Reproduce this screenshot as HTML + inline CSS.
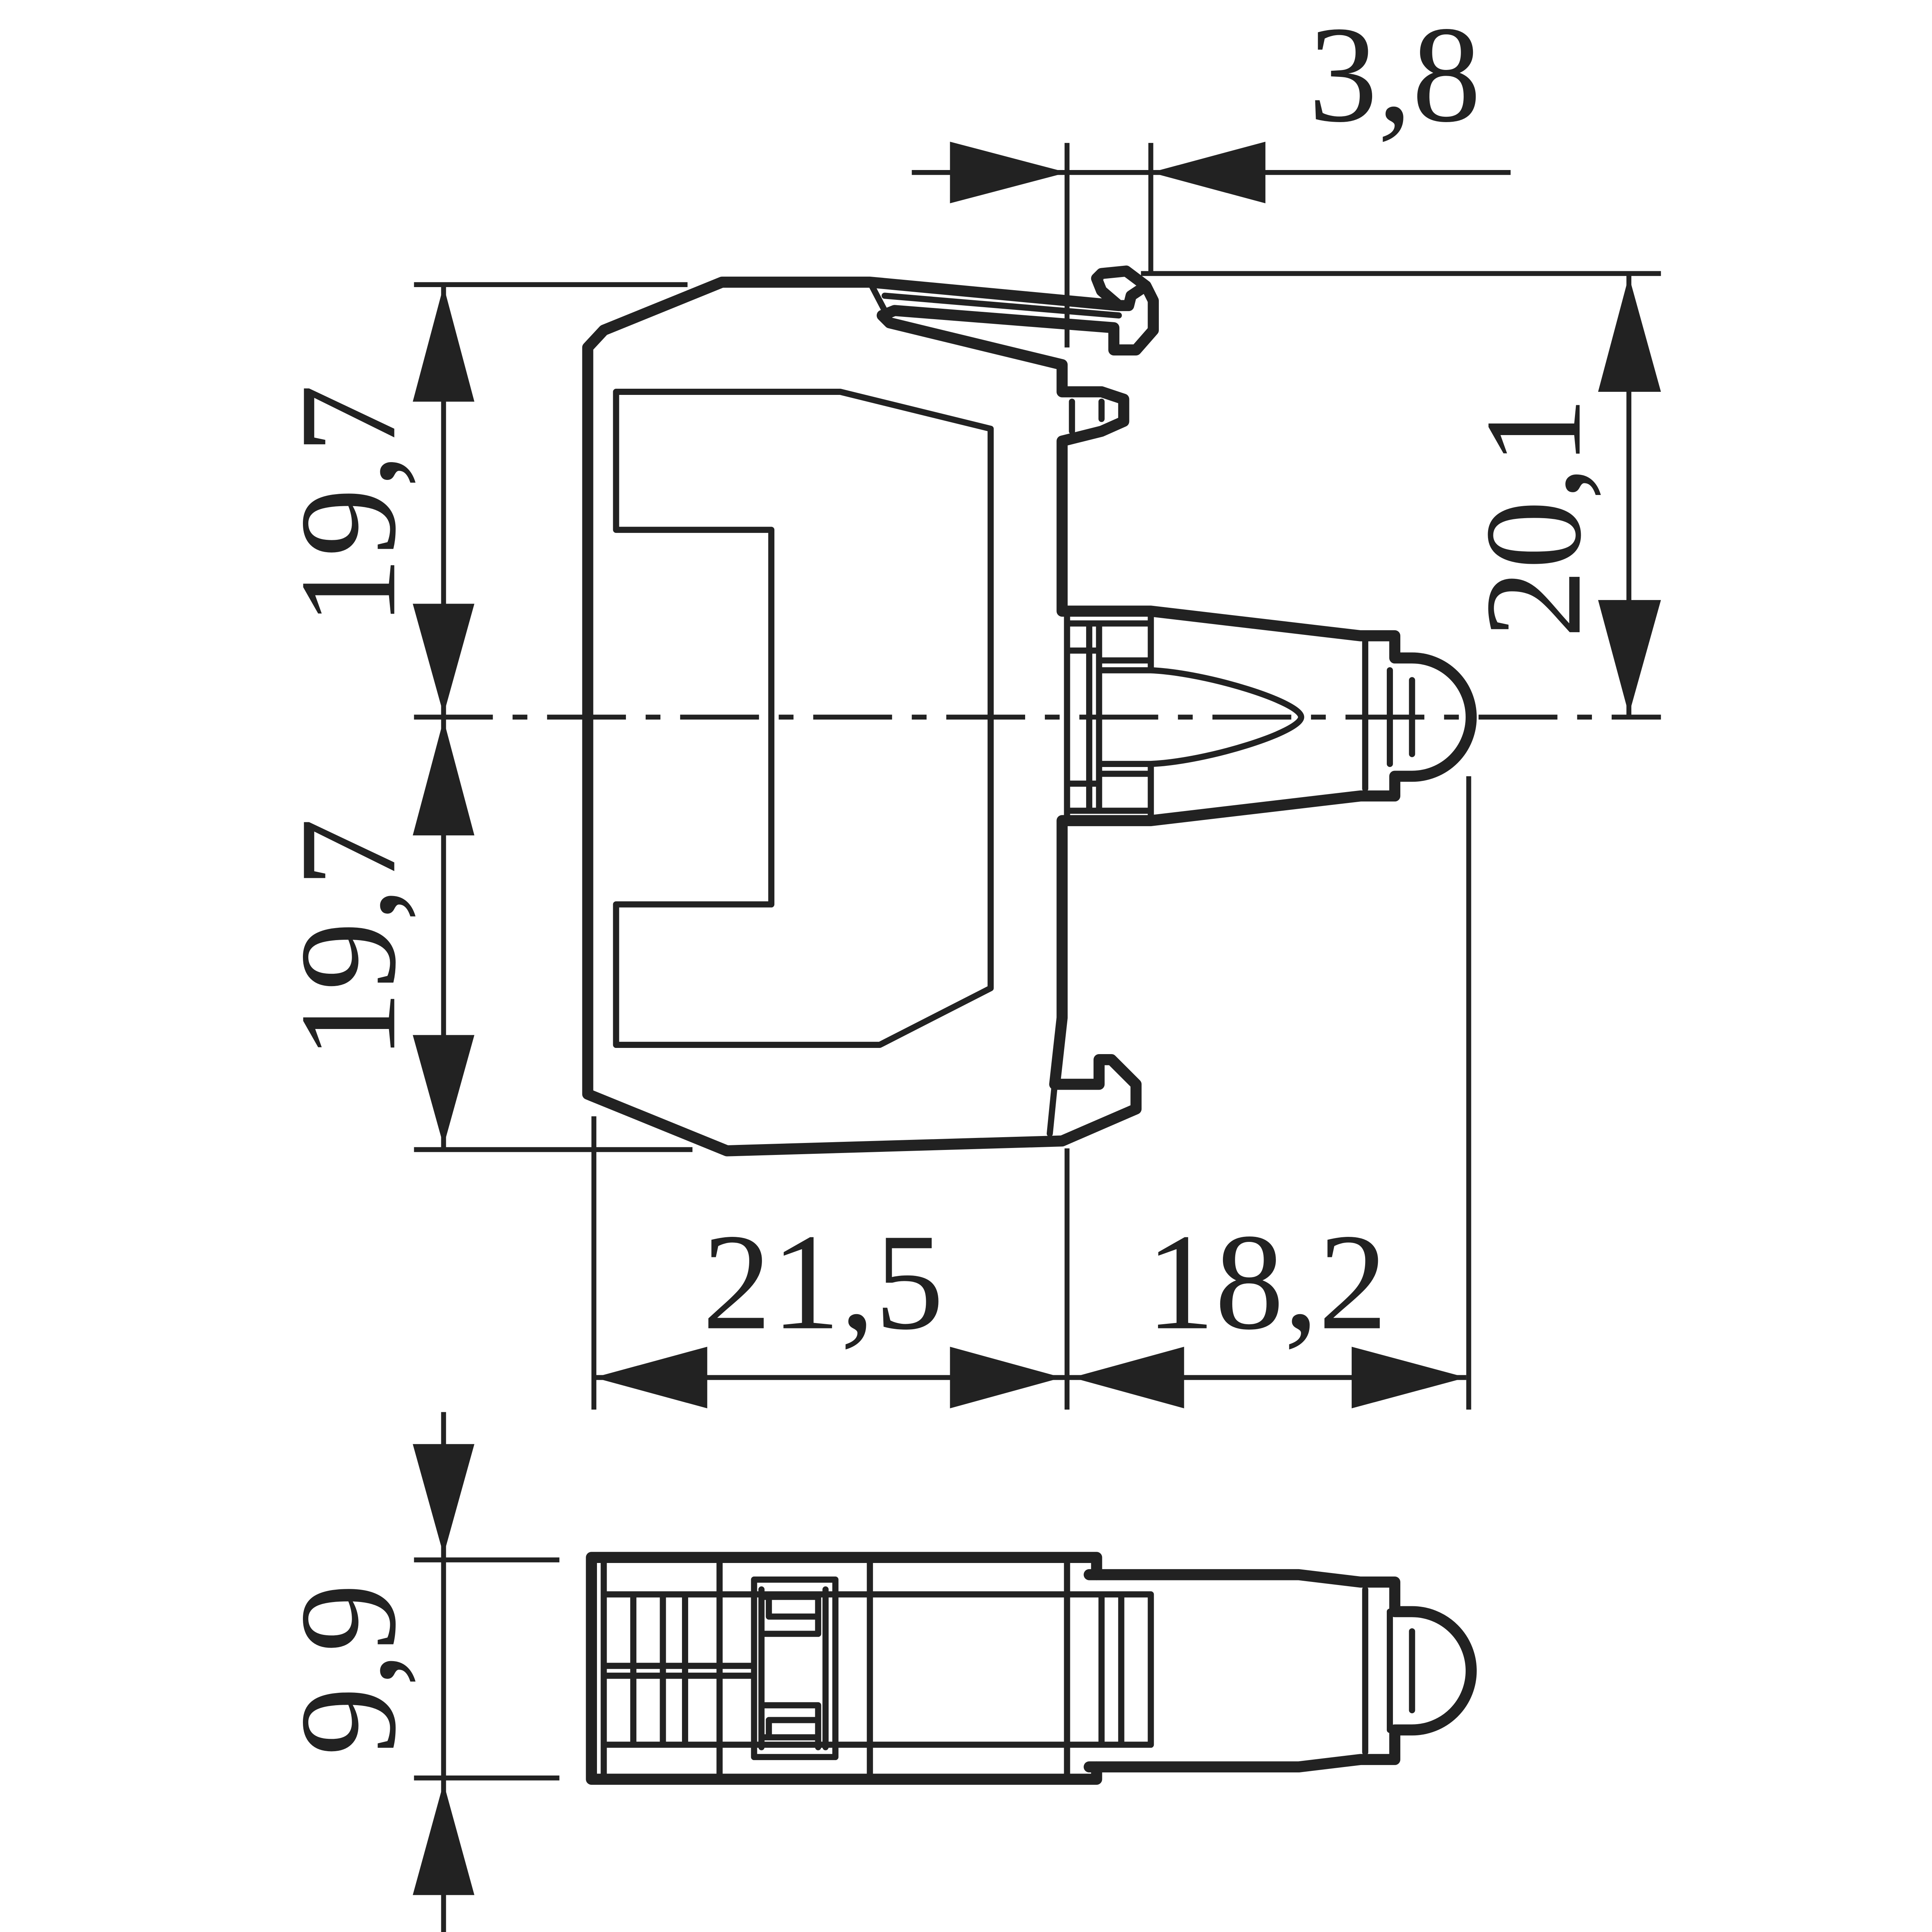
<!DOCTYPE html>
<html><head><meta charset="utf-8"><style>
html,body{margin:0;padding:0;background:#fff;overflow:hidden;}
svg{display:block;width:100vw;height:100vw;}
text{font-family:"Liberation Serif",serif;fill:#222;}
</style></head><body>
<svg viewBox="0 0 1568 1568" preserveAspectRatio="xMinYMin meet" xmlns="http://www.w3.org/2000/svg">
<g stroke="#222" fill="none" stroke-linejoin="round" stroke-linecap="round">
<g stroke-width="4" stroke-linecap="butt">
<line x1="740" y1="140" x2="1226" y2="140"/>
<line x1="866" y1="116" x2="866" y2="282"/>
<line x1="934" y1="116" x2="934" y2="222"/>
<line x1="926" y1="222" x2="1348" y2="222"/>
<line x1="1322" y1="222" x2="1322" y2="582"/>
<line x1="360" y1="230" x2="360" y2="932"/>
<line x1="336" y1="231" x2="558" y2="231"/>
<line x1="336" y1="933" x2="562" y2="933"/>
<line x1="482" y1="1118" x2="1190" y2="1118"/>
<line x1="482" y1="906" x2="482" y2="1144"/>
<line x1="866" y1="932" x2="866" y2="1144"/>
<line x1="1192" y1="630" x2="1192" y2="1144"/>
<line x1="360" y1="1146" x2="360" y2="1568"/>
<line x1="336" y1="1266" x2="454" y2="1266"/>
<line x1="336" y1="1443" x2="454" y2="1443"/>
<line x1="336" y1="582" x2="1348" y2="582" stroke-dasharray="64,16,12,16"/>
</g>
</g>
<g fill="#222" stroke="none">
<polygon points="771,115 866,140 771,165"/>
<polygon points="1027,115 934,140 1027,165"/>
<polygon points="1297,318 1322,224 1348,318"/>
<polygon points="1297,487 1322,580 1348,487"/>
<polygon points="335,326 360,232 385,326"/>
<polygon points="335,490 360,580 385,490"/>
<polygon points="335,678 360,584 385,678"/>
<polygon points="335,840 360,930 385,840"/>
<polygon points="574,1093 482,1118 574,1143"/>
<polygon points="771,1093 862,1118 771,1143"/>
<polygon points="961,1093 870,1118 961,1143"/>
<polygon points="1097,1093 1190,1118 1097,1143"/>
<polygon points="335,1172 360,1262 385,1172"/>
<polygon points="335,1538 360,1447 385,1538"/>
</g>
<g font-size="112">
<text x="1132" y="98" text-anchor="middle">3,8</text>
<text x="668" y="1078" text-anchor="middle">21,5</text>
<text x="1028" y="1078" text-anchor="middle">18,2</text>
<text transform="translate(320,410) rotate(-90)" text-anchor="middle">19,7</text>
<text transform="translate(320,762) rotate(-90)" text-anchor="middle">19,7</text>
<text transform="translate(1282,420) rotate(-90)" text-anchor="middle">20,1</text>
<text transform="translate(320,1355) rotate(-90)" text-anchor="middle">9,9</text>
</g>
<g stroke="#222" fill="none" stroke-linejoin="round" stroke-linecap="round">
<path stroke-width="9" d="M477,888 L477,282 L490,268 L586,229 L706,229 L908,248 M862,880 L856,880 L862,826 L862,666 L934,666 L1104,646 L1132,646 L1132,630 L1146,630 A48,48 0 0 0 1146,534 L1132,534 L1132,516 L1104,516 L934,496 L862,496 L862,358 L894,350 L912,342 L912,324 L894,318 L862,318 L862,296 L722,262 L716,256 L726,252 L904,266 L904,284 L922,284 L936,268 L936,244 L930,232 L914,220 L894,222 L890,226 L894,236 L908,248 L916,248 L918,240 L930,232 M477,888 L590,934 L862,926 L922,900 L922,880 L902,860 L892,860 L892,880 L862,880"/>
<g stroke-width="5">
<path d="M500,318 L682,318 L804,348 L804,802 L714,848 L500,848 L500,734 L626,734 L626,430 L500,430 Z"/>
<path d="M706,229 L718,252 M718,240 L908,256"/>
<path d="M866,496 L866,666 M884,506 L884,658 M892,506 L892,658 M866,506 L934,506 M866,528 L892,528 M892,536 L934,536 M892,544 L934,544 C980,546 1056,570 1056,582 C1056,594 980,618 934,620 L892,620 M892,628 L934,628 M866,636 L892,636 M866,658 L934,658 M934,496 L934,544 M934,620 L934,666 M1108,520 L1108,640 M1128,544 L1128,620 M1146,552 L1146,612 M870,326 L870,350 M894,326 L894,340 M856,880 L852,920"/>
</g>
<path stroke-width="9" d="M480,1264 L890,1264 L890,1278 L1054,1278 L1104,1284 L1132,1284 L1132,1308 L1146,1308 A48,48 0 0 1 1146,1404 L1132,1404 L1132,1428 L1104,1428 L1054,1434 L890,1434 L890,1444 L480,1444 Z"/>
<path stroke-width="9" d="M884,1278 L890,1278 M884,1434 L890,1434"/>
<g stroke-width="5">
<path d="M490,1294 L934,1294 M490,1416 L934,1416 M490,1264 L490,1444 M514,1294 L514,1416 M538,1294 L538,1416 M556,1294 L556,1416 M584,1264 L584,1444 M706,1264 L706,1444 M866,1264 L866,1444 M894,1294 L894,1416 M910,1294 L910,1416 M934,1294 L934,1416 M490,1352 L612,1352 M490,1360 L612,1360 M1108,1290 L1108,1422 M1128,1308 L1128,1404 M1146,1324 L1146,1388"/>
<path d="M612,1282 L678,1282 L678,1426 L612,1426 Z M618,1290 L618,1418 M670,1290 L670,1418 M618,1296 L664,1296 L664,1326 L618,1326 M624,1296 L624,1312 L664,1312 M618,1384 L664,1384 L664,1418 M618,1410 L664,1410 M624,1396 L664,1396 M624,1396 L624,1410"/>
</g>
</g>
</svg>
</body></html>
